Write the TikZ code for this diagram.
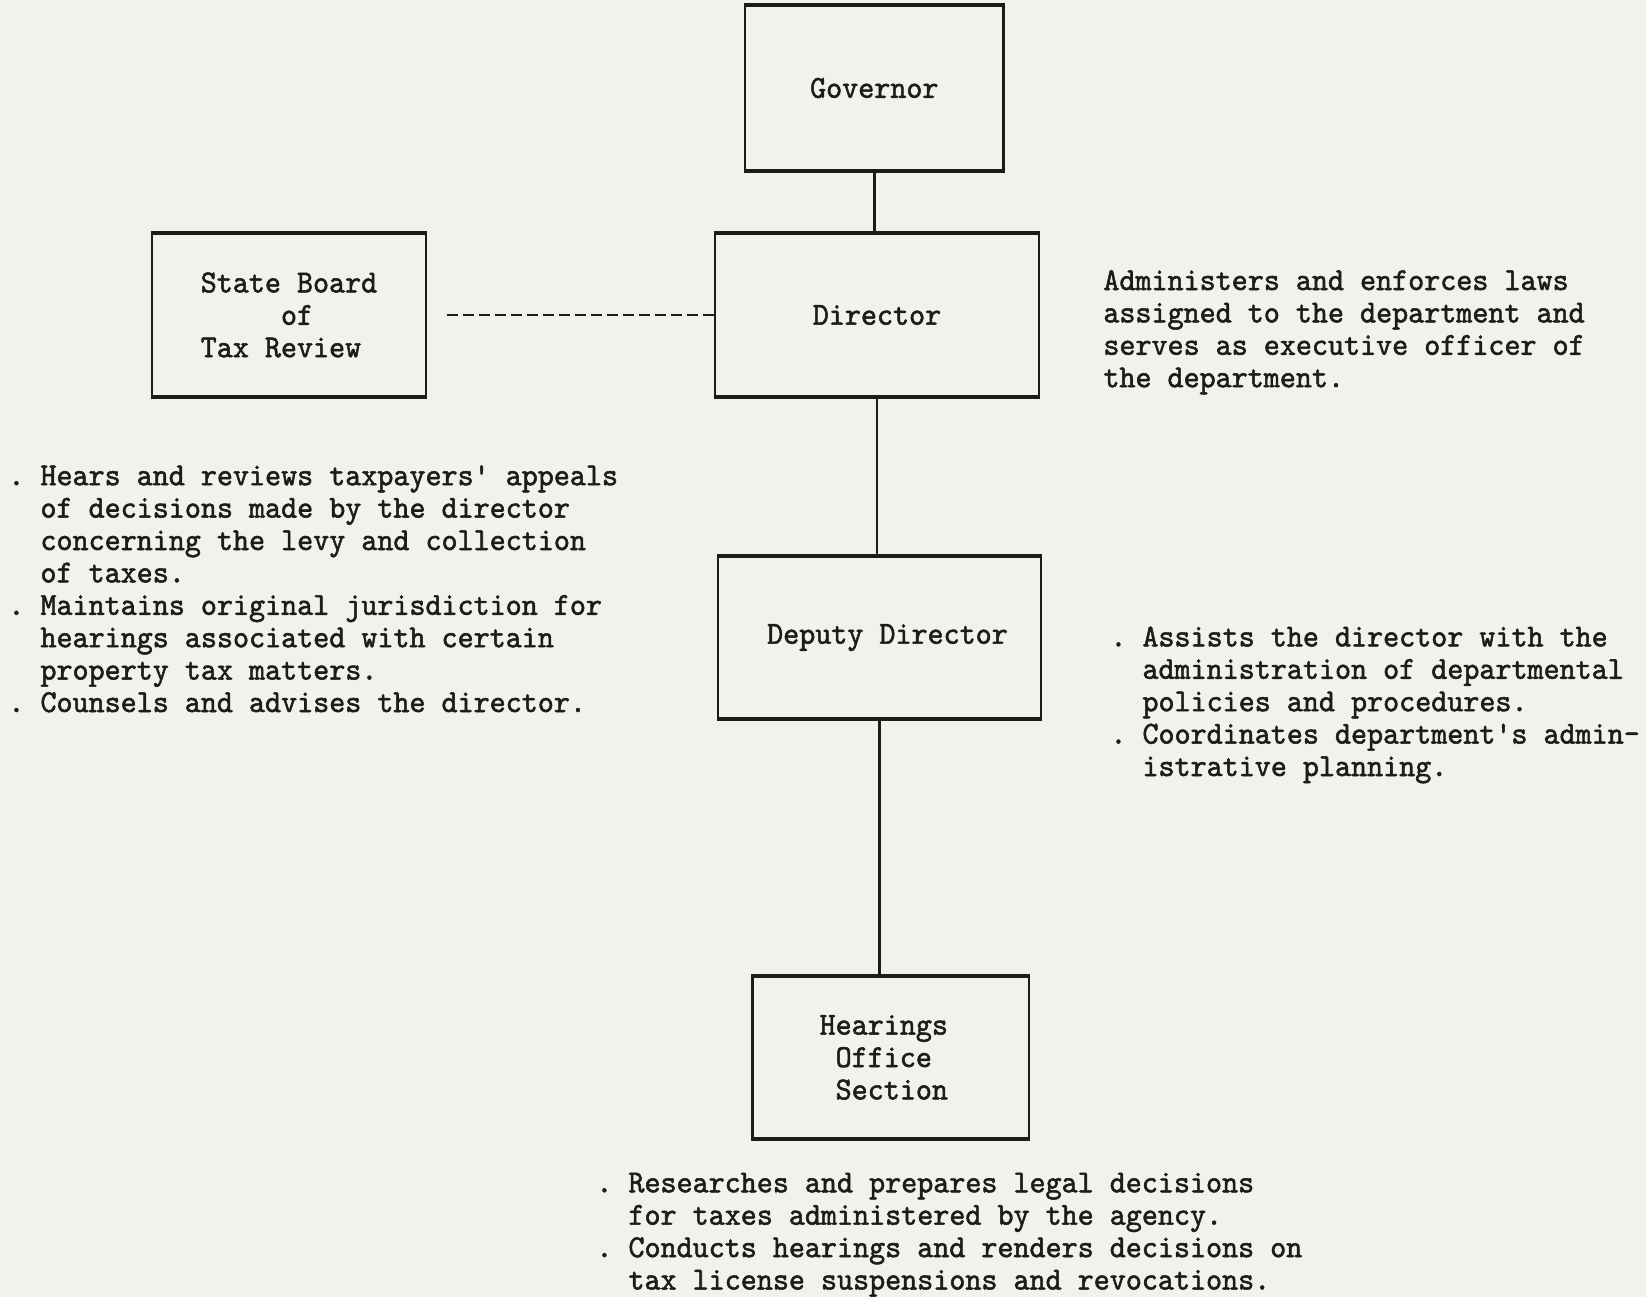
\documentclass[tikz,border=0pt]{standalone}
\usepackage{fontspec}
\usetikzlibrary{calc}
\newfontfamily\typewriter{lmmono10-regular.otf}[FakeStretch=0.955,FakeBold=1.6]
\definecolor{paper}{RGB}{242,241,235}
\definecolor{ink}{RGB}{28,28,28}
\frenchspacing

\begin{document}
\begin{tikzpicture}[x=0.5pt,y=-0.5pt,
  every node/.style={font=\typewriter\fontsize{16pt}{16.2pt}\selectfont, text=ink, inner sep=0pt},
  unit/.style={draw=ink, line width=1.3pt, align=left},
  rim/.style={draw=ink, line width=1.8pt},
  link/.style={draw=ink, line width=1.3pt},
  advisory/.style={draw=ink, line width=1.3pt, dash pattern=on 5.5pt off 2.5pt},
  duty/.style={align=left, anchor=base west},
]
% sheet
\fill[paper] (0,0) rectangle (1646,1297);
\useasboundingbox (0,0) rectangle (1646,1297);

% organisation boxes
\node[unit, minimum width=129.3pt, minimum height=82pt] (gov) at (874.3,88) {Governor};
\node[unit, minimum width=162pt, minimum height=81pt] (dir) at (877,315) {Director};
\node[unit, minimum width=137pt, minimum height=81pt] (board) at (289,315)
  {State Board\\\phantom{State}of\\Tax Review};
\node[unit, minimum width=161.5pt, minimum height=80.5pt] (dep) at (879.5,637.6)
  {\hspace*{8pt}Deputy Director};
\node[unit, minimum width=138.2pt, minimum height=80.7pt] (hear) at (890.8,1057.4)
  {Hearings\\\phantom{H}Office\\\phantom{H}Section\hspace*{7pt}};

% heavier top and bottom edges
\foreach \b in {gov,dir,board,dep,hear}
  \draw[rim] (\b.north west) -- (\b.north east) (\b.south west) -- (\b.south east);

% reporting lines
\draw[link] (gov.south) -- (gov.south |- dir.north);
\draw[link] (dir.south) -- (dir.south |- dep.north);
\draw[link] (dep.south) -- (dep.south |- hear.north);
\coordinate (boardgap) at ($(board.east)+(17,0)$);
\draw[advisory] (dir.west) -- (boardgap);

% duties (each anchored at the baseline of its last line)
\node[duty] (dirnote) at (1103,387.2)
  {Administers and enforces laws\\assigned to the department and\\serves as executive officer of\\the department.};
\node[duty] (boardnote) at (8,712)
  {. Hears and reviews taxpayers' appeals\\
   \phantom{. }of decisions made by the director\\
   \phantom{. }concerning the levy and collection\\
   \phantom{. }of taxes.\\
   . Maintains original jurisdiction for\\
   \phantom{. }hearings associated with certain\\
   \phantom{. }property tax matters.\\
   . Counsels and advises the director.};
\node[duty] (depnote) at (1110,776)
  {. Assists the director with the\\
   \phantom{. }administration of departmental\\
   \phantom{. }policies and procedures.\\
   . Coordinates department's admin-\\
   \phantom{. }istrative planning.};
\node[duty] (hearnote) at (596,1289.5)
  {. Researches and prepares legal decisions\\
   \phantom{. }for taxes administered by the agency.\\
   . Conducts hearings and renders decisions on\\
   \phantom{. }tax license suspensions and revocations.};
\end{tikzpicture}
\end{document}
